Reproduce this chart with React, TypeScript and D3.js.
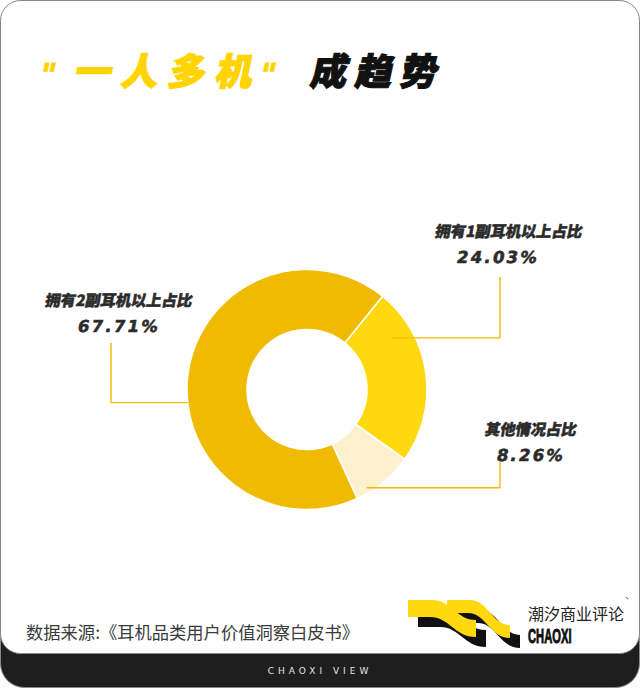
import React from "react";
import * as d3 from "d3";

const categories = ["拥有1副耳机以上占比", "其他情况占比", "拥有2副耳机以上占比"];
const values = [24.03, 8.26, 67.71];
const valueLabels = ["24.03%", "8.26%", "67.71%"];
const sliceColors = ["#FFD80F", "#FDF0CC", "#F0BA00"];

// layout for annotations (not data)
const anchors = [
  { frac: 0.23, r: 100, elbowX: 500, endY: 277, labelX: 508, labelY: 237, valueX: 497, valueY: 263 },
  { frac: 0.78, r: 115, elbowX: 500, endY: 462, labelX: 530, labelY: 435, valueX: 530, valueY: 461 },
  { frac: 0.445, r: 120, elbowX: 111, endY: 343, labelX: 118, labelY: 306, valueX: 118, valueY: 332 },
];

const W = 640;
const H = 688;
const CX = 307;
const CY = 389.5;
const R_OUT = 120;
const R_IN = 60;
const START = (39 * Math.PI) / 180;

// a wave band: top edge flat then S-curve down; bottom edge is the top edge shifted by (dx, th)
function band(x0: number, x1: number, x2: number, drop: number, th: number, dx: number) {
  const c = (x2 - x1) * 0.45;
  return [
    `M${x0},0`,
    `L${x1},0`,
    `C${x1 + c},0 ${x2 - c},${drop} ${x2},${drop}`,
    `L${x2},${drop + th}`,
    `C${x2 - c + dx},${drop + th} ${x1 + dx + c},${th} ${x1 + dx},${th}`,
    `L${x0},${th}`,
    "Z",
  ].join(" ");
}

export default function App() {
  const pie = d3
    .pie<number>()
    .sort(null)
    .value((d) => d)
    .startAngle(START)
    .endAngle(START + Math.PI * 2);
  const arcs = pie(values);
  const arc = d3.arc<d3.PieArcDatum<number>>().innerRadius(R_IN).outerRadius(R_OUT);

  const cjk = "'Noto Sans CJK SC', 'Noto Sans', sans-serif";
  const p1 = band(0, 24, 68, 20, 17, -2);
  const p2 = band(39, 62, 102, 25, 13, -2);

  return (
    <svg
      width={W}
      height={H}
      style={{ position: "absolute", left: 0, top: 0, background: "#fff" }}
      xmlns="http://www.w3.org/2000/svg"
    >
      {/* frame */}
      <rect x={0.5} y={0.5} width={W - 1} height={H - 1} rx={24} fill="#1e1e1e" stroke="#888" />
      <rect x={0.5} y={0.5} width={W - 1} height={653} rx={20} fill="#fff" stroke="#888" />

      {/* title */}
      <g fontFamily={cjk} fontWeight={900} fontSize={37}>
        <g transform="translate(0,85) skewX(-12)">
          <text x={38} y={0} fill="#FFD400" stroke="#FFD400" strokeWidth={1} fontFamily="'DejaVu Sans', sans-serif" fontSize={30}>"</text>
          <text x={73} y={0} fill="#FFD400" stroke="#FFD400" strokeWidth={1.3} letterSpacing={10}>一人多机</text>
          <text x={258} y={0} fill="#FFD400" stroke="#FFD400" strokeWidth={1} fontFamily="'DejaVu Sans', sans-serif" fontSize={30}>"</text>
          <text x={309} y={0} fill="#111" stroke="#111" strokeWidth={1.1} letterSpacing={8}>成趋势</text>
        </g>
      </g>

      {/* donut */}
      <g transform={`translate(${CX},${CY})`}>
        {arcs.map((a, i) => (
          <path key={i} d={arc(a) || ""} fill={sliceColors[i]} stroke="#fff" strokeWidth={1.5} />
        ))}
      </g>

      {/* leader lines and labels */}
      {arcs.map((a, i) => {
        const an = anchors[i];
        const ang = a.startAngle + (a.endAngle - a.startAngle) * an.frac;
        const ax = CX + an.r * Math.sin(ang);
        const ay = CY - an.r * Math.cos(ang);
        return (
          <g key={i}>
            <polyline
              points={`${ax},${ay} ${an.elbowX},${ay} ${an.elbowX},${an.endY}`}
              fill="none"
              stroke="#F0BA00"
              strokeWidth={1.4}
            />
            <text
              transform={`translate(${an.labelX},${an.labelY}) skewX(-10)`}
              textAnchor="middle"
              fontFamily={cjk}
              fontWeight={900}
              fontSize={15.3}
              stroke="#2b2b2b"
              strokeWidth={0.5}
              fill="#2b2b2b"
            >
              {categories[i]}
            </text>
            <text
              transform={`translate(${an.valueX},${an.valueY}) skewX(-10)`}
              textAnchor="middle"
              fontFamily="'DejaVu Sans', sans-serif"
              fontWeight={700}
              fontSize={16.5}
              letterSpacing={2.2}
              stroke="#2b2b2b"
              strokeWidth={0.6}
              fill="#2b2b2b"
            >
              {valueLabels[i]}
            </text>
          </g>
        );
      })}

      {/* source */}
      <text x={26} y={639} fontFamily={cjk} fontSize={17.3} fill="#3a3a3a">
        数据来源:《耳机品类用户价值洞察白皮书》
      </text>

      {/* logo */}
      <g transform="translate(408,600)">
        <g fill="#111" transform="translate(10,10)">
          <path d={p1} />
          <path d={p2} />
        </g>
        <g fill="#FFD80F">
          <path d={p1} />
          <path d={p2} />
        </g>
      </g>
      <text x={528} y={620} fontFamily={cjk} fontSize={16} fill="#222">
        潮汐商业评论
      </text>
      <text x={625} y={603} fontFamily={cjk} fontSize={7} fill="#222">ˋ</text>
      <text
        transform="translate(528,643) scale(0.56,1)"
        fontFamily="'Liberation Sans', 'DejaVu Sans', sans-serif"
        fontWeight={700}
        fontSize={20}
        stroke="#111"
        strokeWidth={0.9}
        fill="#111"
      >
        CHAOXI
      </text>

      {/* footer */}
      <text
        x={320}
        y={674}
        textAnchor="middle"
        fontFamily="'DejaVu Sans', sans-serif"
        fontSize={9}
        letterSpacing={4}
        fill="#e6e6e6"
      >
        CHAOXI VIEW
      </text>
    </svg>
  );
}
